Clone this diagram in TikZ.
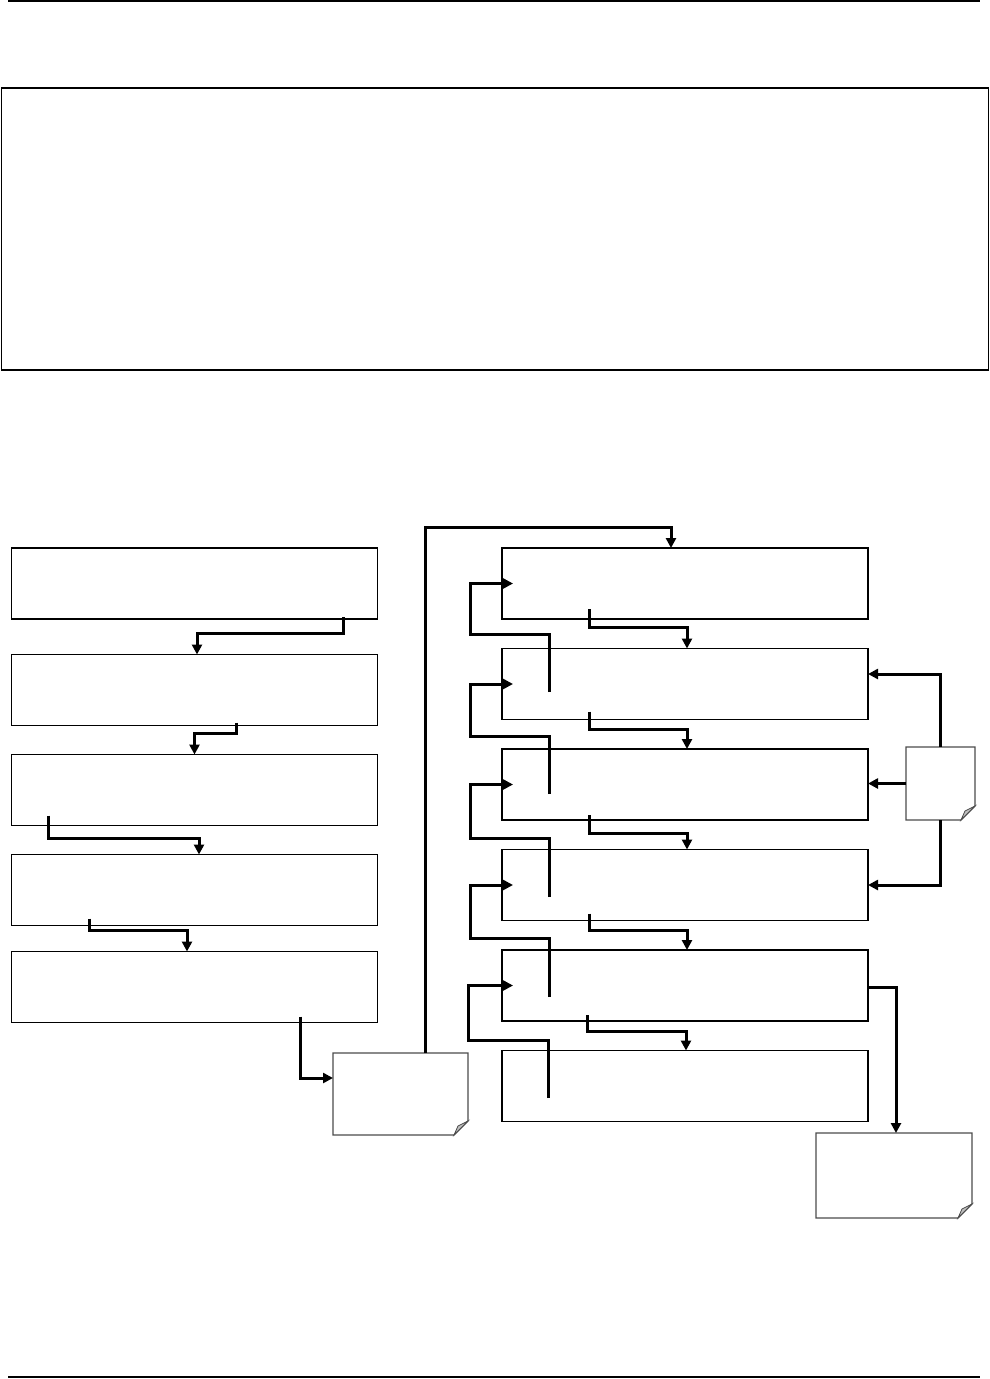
\documentclass[tikz,border=0pt]{standalone}
\usetikzlibrary{positioning}
\usetikzlibrary{arrows.meta}

\tikzset{
  stagebox/.style = {draw, line width=1.3pt, inner sep=0pt, outer sep=0pt, minimum width=366pt, minimum height=71pt},
  sheet/.style = {inner sep=0pt, outer sep=0pt},
  flow/.style = {line width=3pt, -{Triangle[length=10pt,width=10pt]}},
}
% outline of a note sheet with a turned-down corner
\newcommand{\notecorner}[1]{%
  \draw[line width=1.3pt, draw=black!70] (#1.north west) -- (#1.north east) -- ([yshift=14pt]#1.south east)
    -- ([xshift=-14pt]#1.south east) -- (#1.south west) -- cycle;
  \filldraw[line width=0.8pt, draw=black!70, fill=black!25] ([yshift=14pt]#1.south east)
    -- ([xshift=-14pt]#1.south east) -- ([xshift=-10pt,yshift=9pt]#1.south east) -- cycle;
}

\begin{document}
\begin{tikzpicture}[x=1pt, y=-1pt, node distance=29.5pt]
  \useasboundingbox (0,0) rectangle (990,1379);

  % page rules and upper frame
  \draw[line width=1.6pt] (8,1) -- (980,1);
  \draw[line width=1.6pt] (8,1377) -- (980,1377);
  \node[draw, line width=1.3pt, inner sep=0pt, minimum width=987pt, minimum height=282pt] (panel) at (495,229) {};

  % left column
  \node[stagebox] (l1) at (194.5,583.5) {};
  \node[stagebox, below=35.5pt of l1] (l2) {};
  \node[stagebox, below=29pt of l2] (l3) {};
  \node[stagebox, below=29pt of l3] (l4) {};
  \node[stagebox, below=26pt of l4] (l5) {};

  % right column
  \node[stagebox] (r1) at (685,583.5) {};
  \node[stagebox, below=of r1] (r2) {};
  \node[stagebox, below=of r2] (r3) {};
  \node[stagebox, below=of r3] (r4) {};
  \node[stagebox, below=of r4] (r5) {};
  \node[stagebox, below=of r5] (r6) {};

  % note sheets
  \node[sheet, minimum width=135pt, minimum height=82pt] (n1) at (400.5,1094) {};
  \node[sheet, minimum width=69pt, minimum height=73pt] (n2) at (940.5,783.5) {};
  \node[sheet, minimum width=156pt, minimum height=85pt] (n3) at (894,1175.5) {};
  \notecorner{n1}
  \notecorner{n2}
  \notecorner{n3}

  % left chain
  \draw[flow] ([xshift=148.5pt,yshift=2pt]l1.south) -- ++(0,16) -| ([xshift=2.5pt]l2.north);
  \draw[flow] ([xshift=41.5pt,yshift=3pt]l2.south) -- ++(0,11) -| (l3.north);
  \draw[flow] ([xshift=-146.5pt,yshift=10pt]l3.south) -- ++(0,23) -| ([xshift=4.5pt]l4.north);
  \draw[flow] ([xshift=-105.5pt,yshift=7pt]l4.south) -- ++(0,12) -| ([xshift=-7.5pt]l5.north);
  \draw[flow] ([xshift=105.5pt,yshift=6pt]l5.south) |- ([yshift=16pt]n1.west);
  \draw[flow] ([xshift=24.5pt]n1.north) -- ++(0,-526) -| ([xshift=-14pt]r1.north);

  % right chain
  \draw[flow] ([xshift=-96pt,yshift=10pt]r1.south) -- ++(0,18) -| ([xshift=2pt]r2.north);
  \draw[flow] ([xshift=-96pt,yshift=8pt]r2.south) -- ++(0,18) -| ([xshift=2pt]r3.north);
  \draw[flow] ([xshift=-96pt,yshift=5pt]r3.south) -- ++(0,18) -| ([xshift=2pt]r4.north);
  \draw[flow] ([xshift=-96pt,yshift=7pt]r4.south) -- ++(0,17) -| ([xshift=2pt]r5.north);
  \draw[flow] ([xshift=-98pt,yshift=6pt]r5.south) -- ++(0,16) -| ([xshift=1pt]r6.north);

  % loops back up
  \draw[flow] ([xshift=-136pt,yshift=-8pt]r2.center) -- ++(0,-58) -- ++(-79,0) |- ([xshift=-172pt]r1.center);
  \draw[flow] ([xshift=-136pt,yshift=-9.5pt]r3.center) -- ++(0,-58) -- ++(-79,0) |- ([xshift=-172pt]r2.center);
  \draw[flow] ([xshift=-136pt,yshift=-12pt]r4.center) -- ++(0,-59) -- ++(-79,0) |- ([xshift=-172pt]r3.center);
  \draw[flow] ([xshift=-136pt,yshift=-11.5pt]r5.center) -- ++(0,-59) -- ++(-79,0) |- ([xshift=-172pt]r4.center);
  \draw[flow] ([xshift=-137pt,yshift=-12pt]r6.center) -- ++(0,-58) -- ++(-80,0) |- ([xshift=-172pt]r5.center);

  % side notes
  \draw[flow] (n2.north) |- ([yshift=10pt]r2.east);
  \draw[flow] (n2.west) -- (n2.west -| r3.east);
  \draw[flow] (n2.south) |- (r4.east);
  \draw[flow] ([yshift=-1.5pt]r5.east) -| ([xshift=2pt]n3.north);
\end{tikzpicture}
\end{document}
